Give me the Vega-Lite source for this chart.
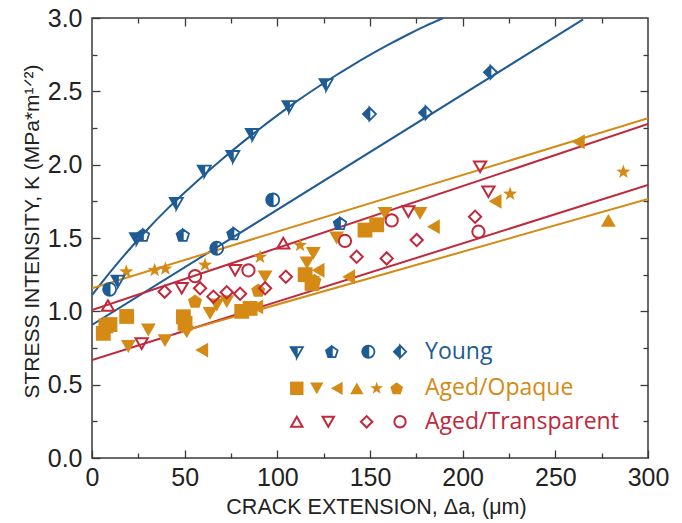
{
  "$schema": "https://vega.github.io/schema/vega-lite/v6.json",
  "width": 556,
  "height": 440,
  "autosize": "none",
  "padding": {"left": 92, "top": 18, "right": 34, "bottom": 65},
  "background": "white",
  "config": {
    "font": "Liberation Sans",
    "view": {"stroke": "#3a3a3a", "strokeWidth": 1.5},
    "axis": {"grid": false, "domain": false, "tickColor": "#3a3a3a", "tickWidth": 1.3, "labelColor": "#222222", "titleColor": "#222222", "titleFontWeight": "normal"}
  },
  "datasets": {
    "fits": [
      {"fit": "Y1", "group": "Young", "x": 0, "k": 1.11},
      {"fit": "Y1", "group": "Young", "x": 10, "k": 1.27},
      {"fit": "Y1", "group": "Young", "x": 20, "k": 1.42},
      {"fit": "Y1", "group": "Young", "x": 30, "k": 1.56},
      {"fit": "Y1", "group": "Young", "x": 40, "k": 1.69},
      {"fit": "Y1", "group": "Young", "x": 50, "k": 1.81},
      {"fit": "Y1", "group": "Young", "x": 60, "k": 1.925},
      {"fit": "Y1", "group": "Young", "x": 70, "k": 2.035},
      {"fit": "Y1", "group": "Young", "x": 80, "k": 2.14},
      {"fit": "Y1", "group": "Young", "x": 90, "k": 2.24},
      {"fit": "Y1", "group": "Young", "x": 100, "k": 2.336},
      {"fit": "Y1", "group": "Young", "x": 110, "k": 2.428},
      {"fit": "Y1", "group": "Young", "x": 120, "k": 2.514},
      {"fit": "Y1", "group": "Young", "x": 130, "k": 2.596},
      {"fit": "Y1", "group": "Young", "x": 140, "k": 2.674},
      {"fit": "Y1", "group": "Young", "x": 150, "k": 2.748},
      {"fit": "Y1", "group": "Young", "x": 160, "k": 2.818},
      {"fit": "Y1", "group": "Young", "x": 170, "k": 2.884},
      {"fit": "Y1", "group": "Young", "x": 180, "k": 2.946},
      {"fit": "Y1", "group": "Young", "x": 189.5, "k": 3.0},
      {"fit": "Y2", "group": "Young", "x": 0, "k": 0.907},
      {"fit": "Y2", "group": "Young", "x": 265, "k": 2.99},
      {"fit": "O1", "group": "Aged/Opaque", "x": 0, "k": 1.157},
      {"fit": "O1", "group": "Aged/Opaque", "x": 300, "k": 2.316},
      {"fit": "T1", "group": "Aged/Transparent", "x": 0, "k": 1.009},
      {"fit": "T1", "group": "Aged/Transparent", "x": 300, "k": 2.277},
      {"fit": "T2", "group": "Aged/Transparent", "x": 0, "k": 0.668},
      {"fit": "T2", "group": "Aged/Transparent", "x": 300, "k": 1.861},
      {"fit": "O2", "group": "Aged/Opaque", "x": 48, "k": 0.86},
      {"fit": "O2", "group": "Aged/Opaque", "x": 300, "k": 1.766}
    ],
    "points": [
      {"group": "Young", "marker": "triangle", "x": 14, "k": 1.21},
      {"group": "Young", "marker": "triangle", "x": 24, "k": 1.50},
      {"group": "Young", "marker": "triangle", "x": 45.5, "k": 1.74},
      {"group": "Young", "marker": "triangle", "x": 60.6, "k": 1.96},
      {"group": "Young", "marker": "triangle", "x": 76, "k": 2.06},
      {"group": "Young", "marker": "triangle", "x": 86.5, "k": 2.21},
      {"group": "Young", "marker": "triangle", "x": 106.3, "k": 2.40},
      {"group": "Young", "marker": "triangle", "x": 126.3, "k": 2.55},
      {"group": "Young", "marker": "pentagon", "x": 27.5, "k": 1.52},
      {"group": "Young", "marker": "pentagon", "x": 49, "k": 1.52},
      {"group": "Young", "marker": "pentagon", "x": 76.3, "k": 1.53},
      {"group": "Young", "marker": "pentagon", "x": 133.8, "k": 1.60},
      {"group": "Young", "marker": "circle", "x": 9.5, "k": 1.15},
      {"group": "Young", "marker": "circle", "x": 67.3, "k": 1.43},
      {"group": "Young", "marker": "circle", "x": 97.5, "k": 1.76},
      {"group": "Young", "marker": "diamond", "x": 149.7, "k": 2.345},
      {"group": "Young", "marker": "diamond", "x": 180, "k": 2.354},
      {"group": "Young", "marker": "diamond", "x": 215, "k": 2.63},

      {"group": "Aged/Opaque", "marker": "square", "x": 6.1, "k": 0.85},
      {"group": "Aged/Opaque", "marker": "square", "x": 7.5, "k": 0.90},
      {"group": "Aged/Opaque", "marker": "square", "x": 9.7, "k": 0.91},
      {"group": "Aged/Opaque", "marker": "square", "x": 18.7, "k": 0.965},
      {"group": "Aged/Opaque", "marker": "square", "x": 49.3, "k": 0.963},
      {"group": "Aged/Opaque", "marker": "square", "x": 50.2, "k": 0.918},
      {"group": "Aged/Opaque", "marker": "square", "x": 80.8, "k": 1.0},
      {"group": "Aged/Opaque", "marker": "square", "x": 85.3, "k": 1.02},
      {"group": "Aged/Opaque", "marker": "square", "x": 115, "k": 1.25},
      {"group": "Aged/Opaque", "marker": "square", "x": 118.7, "k": 1.19},
      {"group": "Aged/Opaque", "marker": "square", "x": 147.3, "k": 1.554},
      {"group": "Aged/Opaque", "marker": "square", "x": 153.6, "k": 1.59},
      {"group": "Aged/Opaque", "marker": "triangle-down", "x": 19.6, "k": 0.76},
      {"group": "Aged/Opaque", "marker": "triangle-down", "x": 30.4, "k": 0.873},
      {"group": "Aged/Opaque", "marker": "triangle-down", "x": 39.4, "k": 0.80},
      {"group": "Aged/Opaque", "marker": "triangle-down", "x": 51.1, "k": 0.86},
      {"group": "Aged/Opaque", "marker": "triangle-down", "x": 63.7, "k": 0.986},
      {"group": "Aged/Opaque", "marker": "triangle-down", "x": 67.3, "k": 1.043},
      {"group": "Aged/Opaque", "marker": "triangle-down", "x": 72.7, "k": 1.066},
      {"group": "Aged/Opaque", "marker": "triangle-down", "x": 93.4, "k": 1.235},
      {"group": "Aged/Opaque", "marker": "triangle-down", "x": 116, "k": 1.33},
      {"group": "Aged/Opaque", "marker": "triangle-down", "x": 119.4, "k": 1.395},
      {"group": "Aged/Opaque", "marker": "triangle-down", "x": 132, "k": 1.50},
      {"group": "Aged/Opaque", "marker": "triangle-down", "x": 158.1, "k": 1.668},
      {"group": "Aged/Opaque", "marker": "triangle-down", "x": 177, "k": 1.668},
      {"group": "Aged/Opaque", "marker": "triangle-left", "x": 59.2, "k": 0.736},
      {"group": "Aged/Opaque", "marker": "triangle-left", "x": 88.9, "k": 1.03},
      {"group": "Aged/Opaque", "marker": "triangle-left", "x": 122, "k": 1.28},
      {"group": "Aged/Opaque", "marker": "triangle-left", "x": 138.5, "k": 1.236},
      {"group": "Aged/Opaque", "marker": "triangle-left", "x": 184.2, "k": 1.577},
      {"group": "Aged/Opaque", "marker": "triangle-left", "x": 217.5, "k": 1.75},
      {"group": "Aged/Opaque", "marker": "triangle-left", "x": 262.4, "k": 2.156},
      {"group": "Aged/Opaque", "marker": "triangle-up", "x": 278.6, "k": 1.62},
      {"group": "Aged/Opaque", "marker": "star", "x": 18.5, "k": 1.27},
      {"group": "Aged/Opaque", "marker": "star", "x": 33.8, "k": 1.28},
      {"group": "Aged/Opaque", "marker": "star", "x": 39.6, "k": 1.29},
      {"group": "Aged/Opaque", "marker": "star", "x": 61, "k": 1.316},
      {"group": "Aged/Opaque", "marker": "star", "x": 90.7, "k": 1.37},
      {"group": "Aged/Opaque", "marker": "star", "x": 112.3, "k": 1.45},
      {"group": "Aged/Opaque", "marker": "star", "x": 225.6, "k": 1.80},
      {"group": "Aged/Opaque", "marker": "star", "x": 286.7, "k": 1.95},
      {"group": "Aged/Opaque", "marker": "pentagon", "x": 55.6, "k": 1.07},
      {"group": "Aged/Opaque", "marker": "pentagon", "x": 89.7, "k": 1.145},
      {"group": "Aged/Opaque", "marker": "pentagon", "x": 120, "k": 1.21},

      {"group": "Aged/Transparent", "marker": "triangle-up", "x": 8.6, "k": 1.04},
      {"group": "Aged/Transparent", "marker": "triangle-up", "x": 103.2, "k": 1.465},
      {"group": "Aged/Transparent", "marker": "triangle-down", "x": 26.8, "k": 0.78},
      {"group": "Aged/Transparent", "marker": "triangle-down", "x": 48.4, "k": 1.157},
      {"group": "Aged/Transparent", "marker": "triangle-down", "x": 77.2, "k": 1.28},
      {"group": "Aged/Transparent", "marker": "triangle-down", "x": 170.7, "k": 1.68},
      {"group": "Aged/Transparent", "marker": "triangle-down", "x": 209.4, "k": 1.986},
      {"group": "Aged/Transparent", "marker": "triangle-down", "x": 213.9, "k": 1.815},
      {"group": "Aged/Transparent", "marker": "diamond", "x": 39.2, "k": 1.134},
      {"group": "Aged/Transparent", "marker": "diamond", "x": 58.3, "k": 1.157},
      {"group": "Aged/Transparent", "marker": "diamond", "x": 65.5, "k": 1.10},
      {"group": "Aged/Transparent", "marker": "diamond", "x": 72.7, "k": 1.13},
      {"group": "Aged/Transparent", "marker": "diamond", "x": 79.9, "k": 1.12},
      {"group": "Aged/Transparent", "marker": "diamond", "x": 93.4, "k": 1.157},
      {"group": "Aged/Transparent", "marker": "diamond", "x": 104.6, "k": 1.236},
      {"group": "Aged/Transparent", "marker": "diamond", "x": 142.8, "k": 1.372},
      {"group": "Aged/Transparent", "marker": "diamond", "x": 159, "k": 1.361},
      {"group": "Aged/Transparent", "marker": "diamond", "x": 175.2, "k": 1.486},
      {"group": "Aged/Transparent", "marker": "diamond", "x": 206.7, "k": 1.645},
      {"group": "Aged/Transparent", "marker": "circle", "x": 55.6, "k": 1.24},
      {"group": "Aged/Transparent", "marker": "circle", "x": 84.4, "k": 1.28},
      {"group": "Aged/Transparent", "marker": "circle", "x": 136.5, "k": 1.48},
      {"group": "Aged/Transparent", "marker": "circle", "x": 161.7, "k": 1.62},
      {"group": "Aged/Transparent", "marker": "circle", "x": 208.5, "k": 1.543}
    ],
    "legend": [
      {"group": "Young", "marker": "triangle", "x": 110.5, "k": 0.725},
      {"group": "Young", "marker": "pentagon", "x": 129.4, "k": 0.725},
      {"group": "Young", "marker": "circle", "x": 149.1, "k": 0.725},
      {"group": "Young", "marker": "diamond", "x": 166.2, "k": 0.725},
      {"group": "Aged/Opaque", "marker": "square", "x": 110.5, "k": 0.475},
      {"group": "Aged/Opaque", "marker": "triangle-down", "x": 121.3, "k": 0.475},
      {"group": "Aged/Opaque", "marker": "triangle-left", "x": 132.1, "k": 0.475},
      {"group": "Aged/Opaque", "marker": "triangle-up", "x": 142.9, "k": 0.475},
      {"group": "Aged/Opaque", "marker": "star", "x": 153.6, "k": 0.475},
      {"group": "Aged/Opaque", "marker": "pentagon", "x": 164.4, "k": 0.475},
      {"group": "Aged/Transparent", "marker": "triangle-up", "x": 110.5, "k": 0.247},
      {"group": "Aged/Transparent", "marker": "triangle-down", "x": 127.5, "k": 0.247},
      {"group": "Aged/Transparent", "marker": "diamond", "x": 148.2, "k": 0.247},
      {"group": "Aged/Transparent", "marker": "circle", "x": 166.2, "k": 0.247}
    ],
    "labels": [
      {"group": "Young", "label": "Young", "x": 179.7, "k": 0.725},
      {"group": "Aged/Opaque", "label": "Aged/Opaque", "x": 179.7, "k": 0.475},
      {"group": "Aged/Transparent", "label": "Aged/Transparent", "x": 179.7, "k": 0.247}
    ]
  },
  "resolve": {"scale": {"shape": "independent"}, "axis": {"x": "independent", "y": "independent"}},
  "layer": [
    {
      "data": {"name": "fits"},
      "mark": {"type": "line", "strokeWidth": 2, "clip": true, "interpolate": "natural"},
      "encoding": {
        "x": {"field": "x", "type": "quantitative", "scale": {"domain": [0, 300], "nice": false, "zero": false},
          "axis": {"title": "CRACK EXTENSION, Δa, (μm)", "values": [0, 50, 100, 150, 200, 250, 300], "format": "d", "tickSize": -8, "labelPadding": 15, "labelFontSize": 25, "titleFontSize": 21.5, "labelFlush": false, "titleX": 284, "titleY": 55, "titleBaseline": "alphabetic"}},
        "y": {"field": "k", "type": "quantitative", "scale": {"domain": [0, 3], "nice": false, "zero": false},
          "axis": {"title": "STRESS INTENSITY, K (MPa*m¹ᐟ²)", "values": [0, 0.5, 1, 1.5, 2, 2.5, 3], "format": ".1f", "tickSize": -8, "labelPadding": 18, "labelFontSize": 25, "titleFontSize": 21, "labelFlush": false, "titleX": -54, "titleY": 213, "titleBaseline": "alphabetic"}},
        "color": {"field": "group", "type": "nominal", "scale": {"domain": ["Young", "Aged/Opaque", "Aged/Transparent"], "range": ["#1f5b94", "#d48a14", "#c0283c"]}, "legend": null},
        "detail": {"field": "fit", "type": "nominal"}
      }
    },
    {
      "data": {"name": "points"},
      "transform": [{"filter": "datum.group === 'Aged/Opaque'"}],
      "mark": {"type": "point", "filled": true, "color": "#d48a14", "opacity": 1, "size": 220},
      "encoding": {
        "x": {"field": "x", "type": "quantitative", "scale": {"domain": [0, 300], "nice": false, "zero": false},
          "axis": {"orient": "top", "values": [50, 100, 150, 200, 250], "labels": false, "title": null, "tickSize": -8}},
        "y": {"field": "k", "type": "quantitative", "scale": {"domain": [0, 3], "nice": false, "zero": false},
          "axis": {"orient": "right", "values": [0.5, 1, 1.5, 2, 2.5], "labels": false, "title": null, "tickSize": -8}},
        "shape": {"field": "marker", "type": "nominal", "legend": null,
          "scale": {"domain": ["square", "triangle-down", "triangle-left", "triangle-up", "star", "pentagon"],
            "range": ["square", "triangle-down", "triangle-left", "triangle-up",
              "M0,-1L0.235,-0.324L0.951,-0.309L0.38,0.124L0.588,0.809L0,0.4L-0.588,0.809L-0.38,0.124L-0.951,-0.309L-0.235,-0.324Z",
              "M0,-0.9L0.95,-0.21L0.59,0.9L-0.59,0.9L-0.95,-0.21Z"]}}
      }
    },
    {
      "data": {"name": "points"},
      "transform": [{"filter": "datum.group === 'Aged/Transparent'"}],
      "mark": {"type": "point", "filled": false, "color": "#c0283c", "strokeWidth": 2, "opacity": 1, "size": 150},
      "encoding": {
        "x": {"field": "x", "type": "quantitative", "scale": {"domain": [0, 300], "nice": false, "zero": false},
          "axis": {"orient": "bottom", "values": [25, 75, 125, 175, 225, 275], "labels": false, "title": null, "tickSize": -5}},
        "y": {"field": "k", "type": "quantitative", "scale": {"domain": [0, 3], "nice": false, "zero": false},
          "axis": {"orient": "left", "values": [0.25, 0.75, 1.25, 1.75, 2.25, 2.75], "labels": false, "title": null, "tickSize": -5}},
        "shape": {"field": "marker", "type": "nominal", "legend": null,
          "scale": {"domain": ["triangle-up", "triangle-down", "diamond", "circle"], "range": ["triangle-up", "triangle-down", "diamond", "circle"]}}
      }
    },
    {
      "data": {"name": "points"},
      "transform": [{"filter": "datum.group === 'Young'"}],
      "mark": {"type": "point", "filled": true, "fill": "#1f5b94", "stroke": "#1f5b94", "strokeWidth": 1.8, "opacity": 1, "fillOpacity": 1, "size": 170},
      "encoding": {
        "x": {"field": "x", "type": "quantitative", "scale": {"domain": [0, 300], "nice": false, "zero": false},
          "axis": {"orient": "top", "values": [25, 75, 125, 175, 225, 275], "labels": false, "title": null, "tickSize": -5}},
        "y": {"field": "k", "type": "quantitative", "scale": {"domain": [0, 3], "nice": false, "zero": false},
          "axis": {"orient": "right", "values": [0.25, 0.75, 1.25, 1.75, 2.25, 2.75], "labels": false, "title": null, "tickSize": -5}},
        "shape": {"field": "marker", "type": "nominal", "legend": null,
          "scale": {"domain": ["triangle", "pentagon", "circle", "diamond"],
            "range": ["M-1,-0.75L1,-0.75L0,1ZM0,-0.75L0,1L1,-0.75Z",
              "M0,-0.9L0.95,-0.21L0.59,0.9L-0.59,0.9L-0.95,-0.21ZM0,-0.9L0,0.9L0.59,0.9L0.95,-0.21Z",
              "M0,-1A1,1,0,1,1,0,1A1,1,0,1,1,0,-1ZM0,-1L0,1A1,1,0,0,0,0,-1Z",
              "M0,-1L1,0L0,1L-1,0ZM0,-1L0,1L1,0Z"]}}
      }
    },
    {
      "data": {"name": "legend"},
      "transform": [{"filter": "datum.group === 'Aged/Opaque'"}],
      "mark": {"type": "point", "filled": true, "color": "#d48a14", "opacity": 1, "size": 180},
      "encoding": {
        "x": {"field": "x", "type": "quantitative", "scale": {"domain": [0, 300], "nice": false, "zero": false}, "axis": null},
        "y": {"field": "k", "type": "quantitative", "scale": {"domain": [0, 3], "nice": false, "zero": false}, "axis": null},
        "shape": {"field": "marker", "type": "nominal", "legend": null,
          "scale": {"domain": ["square", "triangle-down", "triangle-left", "triangle-up", "star", "pentagon"],
            "range": ["square", "triangle-down", "triangle-left", "triangle-up",
              "M0,-1L0.235,-0.324L0.951,-0.309L0.38,0.124L0.588,0.809L0,0.4L-0.588,0.809L-0.38,0.124L-0.951,-0.309L-0.235,-0.324Z",
              "M0,-0.9L0.95,-0.21L0.59,0.9L-0.59,0.9L-0.95,-0.21Z"]}}
      }
    },
    {
      "data": {"name": "legend"},
      "transform": [{"filter": "datum.group === 'Aged/Transparent'"}],
      "mark": {"type": "point", "filled": false, "color": "#c0283c", "strokeWidth": 2, "opacity": 1, "size": 130},
      "encoding": {
        "x": {"field": "x", "type": "quantitative", "scale": {"domain": [0, 300], "nice": false, "zero": false}, "axis": null},
        "y": {"field": "k", "type": "quantitative", "scale": {"domain": [0, 3], "nice": false, "zero": false}, "axis": null},
        "shape": {"field": "marker", "type": "nominal", "legend": null,
          "scale": {"domain": ["triangle-up", "triangle-down", "diamond", "circle"], "range": ["triangle-up", "triangle-down", "diamond", "circle"]}}
      }
    },
    {
      "data": {"name": "legend"},
      "transform": [{"filter": "datum.group === 'Young'"}],
      "mark": {"type": "point", "filled": true, "fill": "#1f5b94", "stroke": "#1f5b94", "strokeWidth": 1.8, "opacity": 1, "fillOpacity": 1, "size": 150},
      "encoding": {
        "x": {"field": "x", "type": "quantitative", "scale": {"domain": [0, 300], "nice": false, "zero": false}, "axis": null},
        "y": {"field": "k", "type": "quantitative", "scale": {"domain": [0, 3], "nice": false, "zero": false}, "axis": null},
        "shape": {"field": "marker", "type": "nominal", "legend": null,
          "scale": {"domain": ["triangle", "pentagon", "circle", "diamond"],
            "range": ["M-1,-0.75L1,-0.75L0,1ZM0,-0.75L0,1L1,-0.75Z",
              "M0,-0.9L0.95,-0.21L0.59,0.9L-0.59,0.9L-0.95,-0.21ZM0,-0.9L0,0.9L0.59,0.9L0.95,-0.21Z",
              "M0,-1A1,1,0,1,1,0,1A1,1,0,1,1,0,-1ZM0,-1L0,1A1,1,0,0,0,0,-1Z",
              "M0,-1L1,0L0,1L-1,0ZM0,-1L0,1L1,0Z"]}}
      }
    },
    {
      "data": {"name": "labels"},
      "mark": {"type": "text", "align": "left", "baseline": "middle", "font": "Open Sans", "fontSize": 23},
      "encoding": {
        "x": {"field": "x", "type": "quantitative", "scale": {"domain": [0, 300], "nice": false, "zero": false}, "axis": null},
        "y": {"field": "k", "type": "quantitative", "scale": {"domain": [0, 3], "nice": false, "zero": false}, "axis": null},
        "text": {"field": "label", "type": "nominal"},
        "color": {"field": "group", "type": "nominal", "scale": {"domain": ["Young", "Aged/Opaque", "Aged/Transparent"], "range": ["#1f5b94", "#d48a14", "#c0283c"]}, "legend": null}
      }
    }
  ]
}
